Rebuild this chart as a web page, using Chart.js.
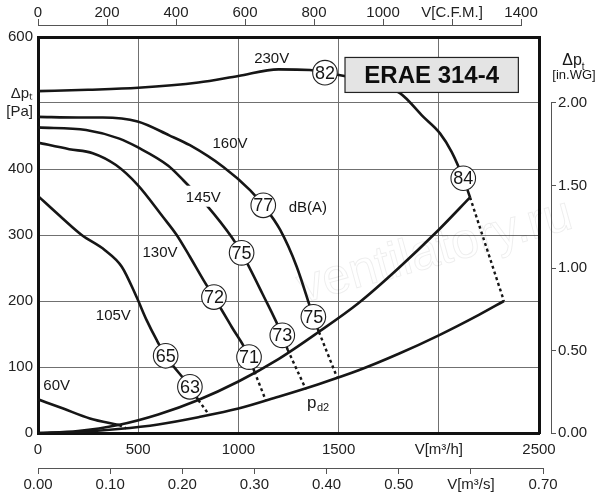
<!DOCTYPE html>
<html>
<head>
<meta charset="utf-8">
<title>ERAE 314-4</title>
<script src="https://cdn.jsdelivr.net/npm/chart.js@4.4.1/dist/chart.umd.min.js"></script>
<style>
    html, body { margin: 0; padding: 0; background: #fff; }
    #chart { display: block; }
</style>
</head>
<body>
<canvas id="chart" width="600" height="500"></canvas>
<script>
const v230 = [0, 250, 500, 800, 1000, 1200, 1357, 1432, 1620, 1806, 1923, 2006, 2064, 2122, 2156];
const p230 = [518, 520, 523, 531, 541, 551, 550, 546, 535, 515, 479, 454, 426, 386, 357];
const v160 = [0, 200, 323, 497, 655, 758, 925, 1058, 1124, 1208, 1291, 1374, 1402];
const p160 = [479, 478, 478, 472, 451, 436, 403, 368, 345, 308, 252, 176, 153];
const v145 = [0, 240, 406, 497, 650, 725, 842, 966, 1016, 1120, 1219, 1246];
const p145 = [463, 459, 446, 433, 405, 383, 345, 297, 273, 211, 148, 126];
const v130 = [0, 156, 273, 389, 497, 622, 692, 758, 825, 878, 966, 1053, 1080];
const p130 = [440, 430, 424, 406, 376, 328, 300, 267, 232, 206, 161, 116, 93];
const v105 = [0, 123, 218, 334, 418, 492, 542, 592, 637, 758, 800];
const p105 = [359, 325, 300, 277, 252, 206, 171, 141, 117, 70, 50];
const v60 = [0, 126, 259, 405];
const p60 = [51, 37, 22, 12];

// Betriebsgrenze und dynamischer Druck pd2
const vLimit = [0, 200, 400, 600, 800, 1000, 1200, 1400, 1600, 1800, 2000, 2156];
const pLimit = [0, 3, 12, 28, 50, 78, 112, 153, 197, 250, 308, 357];
const vDyn = [0, 200, 400, 600, 800, 1000, 1200, 1400, 1600, 1800, 2000, 2200, 2325];
const pDyn = [0, 1.5, 6, 13, 24, 37, 55, 74, 95, 120, 148, 179, 200];

// gestrichelte Verbindungen Grenze -> pd2
const dashFromV = [405, 800, 1080, 1246, 1402, 2156];
const dashFromP = [12, 50, 93, 126, 153, 357];
const dashToV = [440, 855, 1136, 1337, 1494, 2325];
const dashToP = [7, 27, 50, 66, 83, 200];

// Schallleistung dB(A)
const dbLevel = [82, 84, 77, 75, 75, 73, 72, 71, 65, 63];
const dbV = [1432, 2122, 1124, 1374, 1016, 1219, 878, 1053, 637, 758];
const dbP = [546, 386, 345, 176, 273, 148, 206, 115, 117, 70];

// Beschriftungen der Kurven
const curveNames = ['230V', '160V', '145V', '130V', '105V', '60V', 'dB(A)'];
const curveNameV = [1166, 958, 825, 609, 376, 93, 1347];
const curveNameP = [569, 439, 358, 275, 179, 73, 343];

// Achsen
const flowTicks = [0, 500, 1000, 1500, 2000, 2500];
const cfmTicks = [0, 200, 400, 600, 800, 1000, 1200, 1400];
const m3sTicks = [0, 0.1, 0.2, 0.3, 0.4, 0.5, 0.6, 0.7];
const paTicks = [0, 100, 200, 300, 400, 500, 600];
const inwgTicks = [0, 0.5, 1, 1.5, 2];

const modelName = 'ERAE 314-4';
const modelBoxV = [1532, 2397];
const modelBoxP = [569, 516];

const FONT = "'Liberation Sans', Arial, sans-serif";
const INK = '#161616';
const AXIS = '#555';

const toPoints = (vs, ps) => vs.map((v, i) => ({ x: v, y: ps[i] }));
const fixedTicks = (values) => (scale) => { scale.ticks = values.map(v => ({ value: v })); };

function curve(label, vs, ps) {
    return {
        label,
        data: toPoints(vs, ps),
        showLine: true,
        borderColor: INK,
        borderWidth: 2.6,
        pointRadius: 0,
        cubicInterpolationMode: 'monotone',
        order: 2
    };
}

const datasets = [
    {
        label: 'dB(A)',
        data: toPoints(dbV, dbP),
        showLine: false,
        pointRadius: 12.3,
        pointBackgroundColor: '#fff',
        pointBorderColor: '#222',
        pointBorderWidth: 1.1,
        order: 0
    },
    curve('230V', v230, p230),
    curve('160V', v160, p160),
    curve('145V', v145, p145),
    curve('130V', v130, p130),
    curve('105V', v105, p105),
    curve('60V', v60, p60),
    curve('limit', vLimit, pLimit),
    curve('pd2', vDyn, pDyn)
];

dashFromV.forEach((v, i) => {
    datasets.push({
        label: 'dash' + i,
        data: [{ x: v, y: dashFromP[i] }, { x: dashToV[i], y: dashToP[i] }],
        showLine: true,
        borderColor: INK,
        borderWidth: 2.4,
        borderDash: [3, 3],
        pointRadius: 0,
        order: 3
    });
});

// Texte, Typenschild, Achsenlinien
const sheetDecor = {
    id: 'sheetDecor',
    beforeDatasetsDraw(chart) {
        // Wasserzeichen
        const ctx = chart.ctx;
        ctx.save();
        ctx.translate(435, 252);
        ctx.rotate(-0.27);
        ctx.font = '50px ' + FONT;
        ctx.textAlign = 'center';
        ctx.textBaseline = 'middle';
        ctx.strokeStyle = 'rgba(0, 0, 0, 0.07)';
        ctx.lineWidth = 1;
        ctx.strokeText('ventilatory.ru', 0, 0);
        ctx.restore();
    },
    afterDatasetsDraw(chart) {
        const ctx = chart.ctx;
        const x = chart.scales.x;
        const y = chart.scales.y;

        ctx.save();
        ctx.font = '15px ' + FONT;
        ctx.textAlign = 'center';
        ctx.textBaseline = 'middle';
        curveNames.forEach((name, i) => {
            const px = x.getPixelForValue(curveNameV[i]);
            const py = y.getPixelForValue(curveNameP[i]);
            if (name === '145V') {
                const w = ctx.measureText(name).width;
                ctx.fillStyle = '#fff';
                ctx.fillRect(px - w / 2 - 3, py - 11, w + 6, 21);
            }
            ctx.fillStyle = INK;
            ctx.fillText(name, px, py + 1);
        });

        // pd2
        ctx.textAlign = 'left';
        ctx.textBaseline = 'alphabetic';
        const pdX = x.getPixelForValue(1342);
        const pdY = y.getPixelForValue(38);
        ctx.font = '17px ' + FONT;
        ctx.fillText('p', pdX, pdY);
        const pw = ctx.measureText('p').width;
        ctx.font = '11px ' + FONT;
        ctx.fillText('d2', pdX + pw + 0.5, pdY + 3);

        // Typenschild
        const bx0 = x.getPixelForValue(modelBoxV[0]);
        const bx1 = x.getPixelForValue(modelBoxV[1]);
        const by0 = y.getPixelForValue(modelBoxP[0]);
        const by1 = y.getPixelForValue(modelBoxP[1]);
        ctx.fillStyle = '#e4e4e4';
        ctx.fillRect(bx0, by0, bx1 - bx0, by1 - by0);
        ctx.strokeStyle = '#222';
        ctx.lineWidth = 1.2;
        ctx.strokeRect(bx0, by0, bx1 - bx0, by1 - by0);
        ctx.fillStyle = '#0d0d0d';
        ctx.font = 'bold 24px ' + FONT;
        ctx.textAlign = 'center';
        ctx.textBaseline = 'middle';
        ctx.fillText(modelName, (bx0 + bx1) / 2, (by0 + by1) / 2 + 1);

        // Zahlen in den Kreisen
        ctx.font = '18px ' + FONT;
        ctx.fillStyle = INK;
        chart.getDatasetMeta(0).data.forEach((pt, i) => {
            ctx.fillText(String(dbLevel[i]), pt.x, pt.y + 1);
        });

        // Titel rechte Achse
        const r = chart.scales.inwg;
        const cx = r.left + 24;
        const top = r.top;
        ctx.font = '16px ' + FONT;
        const dw = ctx.measureText('\u0394p').width;
        ctx.textAlign = 'left';
        ctx.fillText('\u0394p', cx - dw / 2 - 3, top + 24);
        ctx.font = '10px ' + FONT;
        ctx.fillText('t', cx + dw / 2 - 3, top + 30);
        ctx.font = '13px ' + FONT;
        ctx.textAlign = 'center';
        ctx.fillText('[in.WG]', cx - 1, top + 38);

        // Achsenlinien der Nebenskalen
        ctx.strokeStyle = AXIS;
        ctx.lineWidth = 1;
        const cfm = chart.scales.cfm;
        const cy = Math.round(cfm.bottom) - 0.5;
        ctx.beginPath();
        ctx.moveTo(cfm.getPixelForValue(0), cy);
        ctx.lineTo(cfm.getPixelForValue(1400), cy);
        const rx = Math.round(r.left) + 0.5;
        ctx.moveTo(rx, r.getPixelForValue(0));
        ctx.lineTo(rx, r.getPixelForValue(2));
        const ms = chart.scales.m3s;
        const my = Math.round(ms.top) + 0.5;
        ctx.moveTo(ms.getPixelForValue(0), my);
        ctx.lineTo(ms.getPixelForValue(0.7), my);
        ctx.stroke();
        ctx.restore();
    }
};

const tickFont = { family: FONT, size: 15 };
const noBorder = { display: false };
const hidden = { display: false };

new Chart(document.getElementById('chart'), {
    type: 'scatter',
    data: { datasets },
    options: {
        responsive: false,
        animation: false,
        events: [],
        layout: { padding: 0 },
        plugins: {
            legend: { display: false },
            tooltip: { enabled: false }
        },
        scales: {
            x: {
                type: 'linear',
                position: 'bottom',
                weight: 0,
                min: 0,
                max: 2500,
                afterBuildTicks: fixedTicks(flowTicks),
                afterFit: (s) => { s.height = 35; },
                grid: { color: '#707070', lineWidth: 1, drawTicks: false },
                border: { display: true, color: '#111', width: 3 },
                ticks: {
                    font: tickFont, color: '#222', padding: 8, autoSkip: false, maxRotation: 0,
                    callback: (v) => v === 2000 ? 'V[m\u00b3/h]' : String(v)
                }
            },
            m3s: {
                type: 'linear',
                position: 'bottom',
                weight: 1,
                min: 0,
                max: 0.6944,
                afterBuildTicks: fixedTicks(m3sTicks),
                afterFit: (s) => { s.height = 32; },
                grid: { drawOnChartArea: false, drawTicks: true, tickLength: 6, color: AXIS },
                border: noBorder,
                ticks: {
                    font: tickFont, color: '#222', padding: 2, autoSkip: false, maxRotation: 0,
                    callback: (v) => v === 0.6 ? 'V[m\u00b3/s]' : v.toFixed(2)
                }
            },
            topGap: {
                type: 'linear',
                position: 'top',
                weight: 0,
                min: 0,
                max: 1,
                afterFit: (s) => { s.height = 11; },
                grid: hidden,
                ticks: hidden,
                border: { display: true, color: '#111', width: 3 }
            },
            cfm: {
                type: 'linear',
                position: 'top',
                weight: 1,
                min: 0,
                max: 1452,
                afterBuildTicks: fixedTicks(cfmTicks),
                afterFit: (s) => { s.height = 26; },
                grid: { drawOnChartArea: false, drawTicks: true, tickLength: 7, color: AXIS },
                border: noBorder,
                ticks: {
                    font: tickFont, color: '#222', padding: -3, autoSkip: false, maxRotation: 0,
                    callback: (v) => v === 1200 ? 'V[C.F.M.]' : String(v)
                }
            },
            y: {
                type: 'linear',
                position: 'left',
                min: 0,
                max: 600,
                afterBuildTicks: fixedTicks(paTicks),
                afterFit: (s) => { s.width = 38; },
                grid: { color: '#707070', lineWidth: 1, drawTicks: false },
                border: { display: true, color: '#111', width: 3 },
                ticks: {
                    font: tickFont, color: '#222', padding: 5, autoSkip: false,
                    callback: (v) => v === 500 ? ['\u0394p\u209c', '[Pa]'] : String(v)
                }
            },
            rightGap: {
                type: 'linear',
                position: 'right',
                weight: 0,
                min: 0,
                max: 1,
                afterFit: (s) => { s.width = 12; },
                grid: hidden,
                ticks: hidden,
                border: { display: true, color: '#111', width: 3 }
            },
            inwg: {
                type: 'linear',
                position: 'right',
                weight: 1,
                min: 0,
                max: 2.4,
                afterBuildTicks: fixedTicks(inwgTicks),
                afterFit: (s) => { s.width = 49; },
                grid: { drawOnChartArea: false, drawTicks: true, tickLength: 5, color: AXIS },
                border: noBorder,
                ticks: {
                    font: tickFont, color: '#222', padding: 2, autoSkip: false,
                    callback: (v) => v.toFixed(2)
                }
            }
        }
    },
    plugins: [sheetDecor]
});
</script>
</body>
</html>
